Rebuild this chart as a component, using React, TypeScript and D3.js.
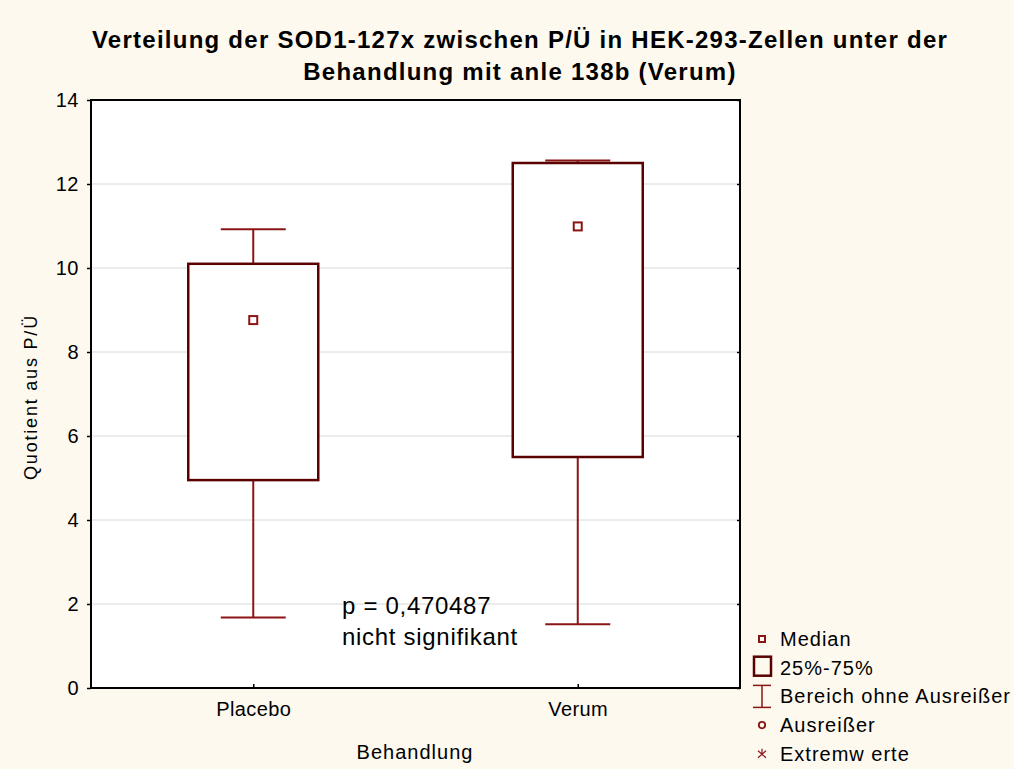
import React, { useEffect, useRef } from "react";
import * as d3 from "d3";

const groups = ["Placebo", "Verum"];
const q1 = [4.95, 5.5];
const q3 = [10.1, 12.5];
const medians = [8.76, 10.99];
const whiskerLow = [1.68, 1.52];
const whiskerHigh = [10.92, 12.56];
const yTicks = [0, 2, 4, 6, 8, 10, 12, 14];
const legendLabels = ["Median", "25%-75%", "Bereich ohne Ausreißer", "Ausreißer", "Extremw erte"];

const W = 1014;
const H = 769;
const FONT = "Liberation Sans, Arial, sans-serif";
const BOX_COL = "#5a0000";
const WHISK_COL = "#8b1414";

function App() {
  const ref = useRef<SVGSVGElement>(null);

  useEffect(() => {
    drawChart();
  }, []);

  function drawChart() {
    const svg = d3.select(ref.current);
    svg.selectAll("*").remove();

    const plot = { left: 91, right: 740, top: 100, bottom: 688 };

    svg.append("rect").attr("width", W).attr("height", H).attr("fill", "#fdf9ef");

    const x = d3
      .scalePoint<string>()
      .domain(groups)
      .range([plot.left, plot.right])
      .padding(0.5);
    const y = d3.scaleLinear().domain([0, 14]).range([plot.bottom, plot.top]);

    svg
      .append("rect")
      .attr("x", plot.left)
      .attr("y", plot.top)
      .attr("width", plot.right - plot.left)
      .attr("height", plot.bottom - plot.top)
      .attr("fill", "#ffffff");

    // grid
    svg
      .append("g")
      .selectAll("line")
      .data(yTicks.filter((t) => t > 0 && t < 14))
      .enter()
      .append("line")
      .attr("x1", plot.left)
      .attr("x2", plot.right)
      .attr("y1", (d) => y(d))
      .attr("y2", (d) => y(d))
      .attr("stroke", "#d8d8d8")
      .attr("stroke-width", 1);

    // title
    const title = svg
      .append("text")
      .attr("text-anchor", "middle")
      .attr("font-family", FONT)
      .attr("font-weight", "bold")
      .attr("font-size", 24)
      .attr("letter-spacing", 1.25)
      .attr("fill", "#000");
    title.append("tspan").attr("x", 520).attr("y", 48).text("Verteilung der SOD1-127x zwischen P/Ü in HEK-293-Zellen unter der");
    title.append("tspan").attr("x", 520).attr("y", 80).text("Behandlung mit anle 138b (Verum)");

    // boxes
    const bw = 130;
    const cw = 65;
    const g = svg.append("g");
    groups.forEach((grp, i) => {
      const cx = x(grp) as number;
      g.append("line")
        .attr("x1", cx).attr("x2", cx)
        .attr("y1", y(whiskerHigh[i])).attr("y2", y(q3[i]))
        .attr("stroke", WHISK_COL).attr("stroke-width", 2);
      g.append("line")
        .attr("x1", cx).attr("x2", cx)
        .attr("y1", y(q1[i])).attr("y2", y(whiskerLow[i]))
        .attr("stroke", WHISK_COL).attr("stroke-width", 2);
      g.append("line")
        .attr("x1", cx - cw / 2).attr("x2", cx + cw / 2)
        .attr("y1", y(whiskerHigh[i])).attr("y2", y(whiskerHigh[i]))
        .attr("stroke", WHISK_COL).attr("stroke-width", 2);
      g.append("line")
        .attr("x1", cx - cw / 2).attr("x2", cx + cw / 2)
        .attr("y1", y(whiskerLow[i])).attr("y2", y(whiskerLow[i]))
        .attr("stroke", WHISK_COL).attr("stroke-width", 2);
      g.append("rect")
        .attr("x", cx - bw / 2)
        .attr("y", y(q3[i]))
        .attr("width", bw)
        .attr("height", y(q1[i]) - y(q3[i]))
        .attr("fill", "#fff")
        .attr("stroke", BOX_COL)
        .attr("stroke-width", 2.5);
      g.append("rect")
        .attr("x", cx - 4)
        .attr("y", y(medians[i]) - 4)
        .attr("width", 8)
        .attr("height", 8)
        .attr("fill", "#fff")
        .attr("stroke", WHISK_COL)
        .attr("stroke-width", 2);
    });

    // frame
    svg
      .append("rect")
      .attr("x", plot.left)
      .attr("y", plot.top)
      .attr("width", plot.right - plot.left)
      .attr("height", plot.bottom - plot.top)
      .attr("fill", "none")
      .attr("stroke", "#000")
      .attr("stroke-width", 2);

    // y axis
    const yAxis = svg
      .append("g")
      .attr("transform", `translate(${plot.left},0)`)
      .call(d3.axisLeft(y).tickValues(yTicks).tickSize(4).tickPadding(8).tickFormat(d3.format("d")));
    yAxis.select(".domain").remove();
    yAxis.selectAll("line").attr("stroke", "#000").attr("stroke-width", 1.5);
    yAxis.selectAll("text").attr("font-family", FONT).attr("font-size", 20).attr("letter-spacing", 0.5).attr("fill", "#000");

    const yRight = svg
      .append("g")
      .attr("transform", `translate(${plot.right},0)`)
      .call(d3.axisLeft(y).tickValues(yTicks).tickSize(3).tickFormat(() => ""));
    yRight.select(".domain").remove();
    yRight.selectAll("line").attr("stroke", "#000").attr("stroke-width", 1.5);

    // x axis
    const xAxis = svg
      .append("g")
      .attr("transform", `translate(0,${plot.bottom})`)
      .call(d3.axisBottom(x).tickSize(-4).tickPadding(14));
    xAxis.select(".domain").remove();
    xAxis.selectAll("line").attr("stroke", "#000").attr("stroke-width", 1.5);
    xAxis.selectAll("text").attr("font-family", FONT).attr("font-size", 20).attr("letter-spacing", 0.4).attr("fill", "#000");

    // axis labels
    svg
      .append("text")
      .attr("x", 415)
      .attr("y", 759)
      .attr("text-anchor", "middle")
      .attr("font-family", FONT)
      .attr("font-size", 20)
      .attr("letter-spacing", 1)
      .text("Behandlung");
    svg
      .append("text")
      .attr("transform", "translate(37,397) rotate(-90)")
      .attr("text-anchor", "middle")
      .attr("font-family", FONT)
      .attr("font-size", 18)
      .attr("letter-spacing", 1.8)
      .text("Quotient aus P/Ü");

    // p annotation
    const note = svg
      .append("text")
      .attr("font-family", FONT)
      .attr("font-size", 24)
      .attr("letter-spacing", 0.7)
      .attr("fill", "#000");
    note.append("tspan").attr("x", 342).attr("y", 614).text("p = 0,470487");
    note.append("tspan").attr("x", 342).attr("y", 645).text("nicht signifikant");

    // legend
    const lg = svg.append("g");
    const ly = (i: number) => 639 + i * 28.7;
    const mx = 762;
    legendLabels.forEach((lab, i) => {
      lg.append("text")
        .attr("x", 780)
        .attr("y", ly(i) + 7)
        .attr("font-family", FONT)
        .attr("font-size", 20)
        .attr("letter-spacing", 1)
        .attr("fill", "#000")
        .text(lab);
    });
    lg.append("rect").attr("x", mx - 3).attr("y", ly(0) - 3).attr("width", 6).attr("height", 6)
      .attr("fill", "#fff").attr("stroke", WHISK_COL).attr("stroke-width", 2);
    lg.append("rect").attr("x", mx - 8).attr("y", ly(1) - 11).attr("width", 17).attr("height", 19)
      .attr("fill", "none").attr("stroke", BOX_COL).attr("stroke-width", 2.5);
    lg.append("line").attr("x1", mx).attr("x2", mx).attr("y1", ly(2) - 11).attr("y2", ly(2) + 11)
      .attr("stroke", WHISK_COL).attr("stroke-width", 1.5);
    lg.append("line").attr("x1", mx - 9).attr("x2", mx + 9).attr("y1", ly(2) - 11).attr("y2", ly(2) - 11)
      .attr("stroke", WHISK_COL).attr("stroke-width", 1.5);
    lg.append("line").attr("x1", mx - 9).attr("x2", mx + 9).attr("y1", ly(2) + 11).attr("y2", ly(2) + 11)
      .attr("stroke", WHISK_COL).attr("stroke-width", 1.5);
    lg.append("circle").attr("cx", mx).attr("cy", ly(3)).attr("r", 3.2)
      .attr("fill", "none").attr("stroke", WHISK_COL).attr("stroke-width", 1.8);
    lg.append("path")
      .attr("d", `M${mx - 4},${ly(4) - 3}L${mx + 4},${ly(4) + 4}M${mx + 4},${ly(4) - 3}L${mx - 4},${ly(4) + 4}M${mx},${ly(4) - 5}L${mx},${ly(4)}`)
      .attr("stroke", WHISK_COL).attr("stroke-width", 1.2).attr("fill", "none");
  }

  return (
    <svg
      ref={ref}
      width={W}
      height={H}
      style={{ position: "fixed", left: 0, top: 0, display: "block" }}
    />
  );
}

export default App;
